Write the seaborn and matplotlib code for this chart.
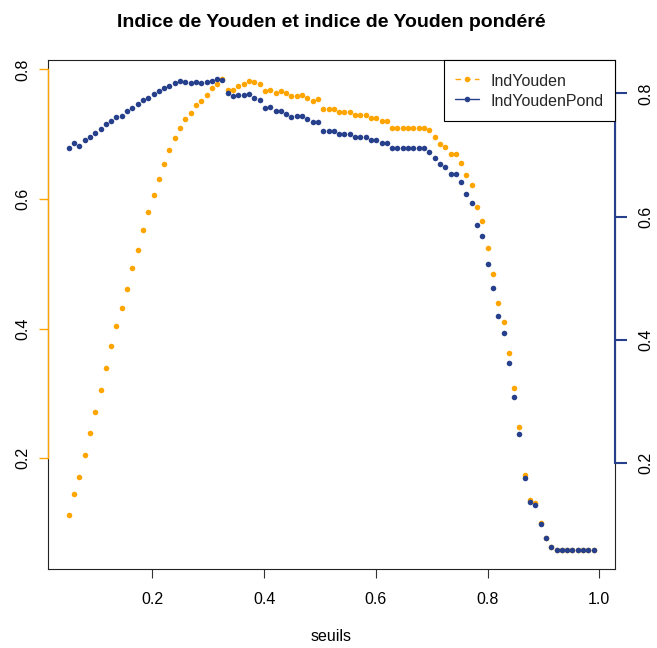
import matplotlib
matplotlib.use("Agg")
import matplotlib.pyplot as plt
from matplotlib.lines import Line2D
import numpy as np
import seaborn as sns

OUT_PATH = "out.png"

ORANGE = "#FFA500"
BLUE = "#27408B"

# thresholds (R: seq(0.05, 0.99, length.out = 100))
SEUILS = np.linspace(0.05, 0.99, 100)

IND_YOUDEN = [
    0.113, 0.145, 0.171, 0.206, 0.239, 0.272, 0.306, 0.339, 0.373, 0.404,
    0.432, 0.462, 0.494, 0.522, 0.553, 0.580, 0.607, 0.631, 0.654, 0.676,
    0.694, 0.710, 0.723, 0.733, 0.745, 0.752, 0.761, 0.771, 0.778, 0.785,
    0.769, 0.769, 0.774, 0.777, 0.782, 0.780, 0.777, 0.766, 0.768, 0.764,
    0.766, 0.763, 0.759, 0.759, 0.761, 0.756, 0.752, 0.754, 0.739, 0.739,
    0.739, 0.734, 0.734, 0.734, 0.730, 0.730, 0.730, 0.725, 0.725, 0.720,
    0.720, 0.710, 0.710, 0.710, 0.710, 0.710, 0.710, 0.710, 0.706, 0.696,
    0.685, 0.680, 0.670, 0.670, 0.656, 0.637, 0.621, 0.588, 0.567, 0.524,
    0.485, 0.440, 0.411, 0.362, 0.308, 0.249, 0.175, 0.136, 0.131, 0.101,
    0.078, 0.064, 0.058, 0.058, 0.058, 0.058, 0.058, 0.058, 0.058, 0.058,
]

IND_YOUDEN_POND = [
    0.712, 0.719, 0.715, 0.724, 0.730, 0.735, 0.742, 0.750, 0.755, 0.762,
    0.764, 0.771, 0.777, 0.782, 0.789, 0.793, 0.799, 0.804, 0.809, 0.812,
    0.817, 0.820, 0.819, 0.816, 0.819, 0.816, 0.819, 0.820, 0.823, 0.822,
    0.800, 0.795, 0.797, 0.797, 0.799, 0.793, 0.790, 0.776, 0.778, 0.772,
    0.772, 0.767, 0.762, 0.764, 0.764, 0.759, 0.754, 0.754, 0.739, 0.739,
    0.739, 0.734, 0.734, 0.734, 0.729, 0.729, 0.729, 0.725, 0.725, 0.720,
    0.720, 0.711, 0.711, 0.711, 0.711, 0.711, 0.711, 0.711, 0.705, 0.695,
    0.686, 0.680, 0.670, 0.670, 0.657, 0.636, 0.622, 0.587, 0.568, 0.524,
    0.485, 0.439, 0.411, 0.363, 0.307, 0.248, 0.176, 0.137, 0.132, 0.101,
    0.078, 0.064, 0.0585, 0.0585, 0.0585, 0.0585, 0.0585, 0.0585, 0.0585, 0.0585,
]

X_TICKS = [0.2, 0.4, 0.6, 0.8, 1.0]
Y_TICKS = [0.2, 0.4, 0.6, 0.8]
LEGEND_LABELS = ["IndYouden", "IndYoudenPond"]


def r_range(values, frac=0.04):
    """Axis limits like R's default xaxs/yaxs = 'r'."""
    lo, hi = float(np.min(values)), float(np.max(values))
    pad = (hi - lo) * frac
    return lo - pad, hi + pad


def main() -> None:
    sns.set_theme(style="white")
    plt.rcParams["font.family"] = ["Liberation Sans", "DejaVu Sans"]

    fig = plt.figure(figsize=(6.57, 6.48), dpi=100)
    ax = fig.add_axes([0.0726, 0.1214, 0.9356 - 0.0726, 0.9069 - 0.1214])
    ax2 = ax.twinx()

    sns.scatterplot(x=SEUILS, y=IND_YOUDEN, ax=ax, color=ORANGE, s=16,
                    linewidth=0, legend=False)
    sns.scatterplot(x=SEUILS, y=IND_YOUDEN_POND, ax=ax2, color=BLUE, s=16,
                    linewidth=0, legend=False)

    ax.set_xlim(*r_range(SEUILS))
    ylo1, yhi1 = r_range(IND_YOUDEN)
    ylo2, yhi2 = r_range(IND_YOUDEN_POND)
    ax.set_ylim(ylo1, yhi1)
    ax2.set_ylim(ylo2, yhi2)

    ax.set_xticks(X_TICKS)
    ax.set_xticklabels([f"{t:.1f}" for t in X_TICKS])
    ax.set_yticks(Y_TICKS)
    ax.set_yticklabels([f"{t:.1f}" for t in Y_TICKS], rotation=90, va="center")
    ax2.set_yticks(Y_TICKS)
    ax2.set_yticklabels([f"{t:.1f}" for t in Y_TICKS], rotation=90, va="center")

    ax.tick_params(axis="x", bottom=True, length=6.5, width=0.8, color="#333333",
                   labelsize=11.5, pad=10, labelcolor="black")
    ax.tick_params(axis="y", left=True, length=6.2, width=1.0, color=ORANGE,
                   labelsize=11.5, pad=6.5, labelcolor="black")
    ax2.tick_params(axis="y", right=True, length=8.4, width=1.5, color=BLUE,
                    labelsize=11.5, pad=9, labelcolor="black")
    ax.grid(False)
    ax2.grid(False)

    # plot box
    for side in ["left", "right", "top", "bottom"]:
        ax.spines[side].set_visible(True)
        ax.spines[side].set_color("#222222")
        ax.spines[side].set_linewidth(0.8)
    ax2.spines["top"].set_visible(False)
    ax2.spines["bottom"].set_visible(False)

    # coloured axis lines, only between the first and last tick (R axis())
    def left_to_right(v):
        return ylo2 + (v - ylo1) / (yhi1 - ylo1) * (yhi2 - ylo2)

    ax2.spines["left"].set_visible(True)
    ax2.spines["left"].set_color(ORANGE)
    ax2.spines["left"].set_linewidth(1.0)
    ax2.spines["left"].set_bounds(left_to_right(Y_TICKS[0]), left_to_right(Y_TICKS[-1]))
    ax2.spines["right"].set_visible(True)
    ax2.spines["right"].set_color(BLUE)
    ax2.spines["right"].set_linewidth(1.5)
    ax2.spines["right"].set_bounds(Y_TICKS[0], Y_TICKS[-1])

    ax.set_xlabel("seuils", fontsize=11.5, labelpad=16, color="black")
    ax.set_ylabel("")
    ax2.set_ylabel("")

    fig.text(0.5041, 1 - 27.3 / 648, "Indice de Youden et indice de Youden pondéré",
             ha="center", va="baseline", fontsize=14, fontweight="bold", color="black")

    handles = [
        Line2D([], [], color=ORANGE, linestyle=(0, (4, 3)), linewidth=1,
               marker="o", markersize=4, markeredgewidth=0),
        Line2D([], [], color=BLUE, linestyle="-", linewidth=1,
               marker="o", markersize=4, markeredgewidth=0),
    ]
    leg = ax2.legend(handles, LEGEND_LABELS, loc="upper right", borderaxespad=0,
                     fontsize=11.5, frameon=True, fancybox=False, framealpha=1,
                     edgecolor="black", borderpad=0.7, handlelength=1.5,
                     handleheight=1.3, handletextpad=0.7, labelspacing=0.2)
    leg.get_frame().set_linewidth(0.8)

    fig.savefig(OUT_PATH, dpi=100)
    plt.close(fig)


if __name__ == "__main__":
    main()
